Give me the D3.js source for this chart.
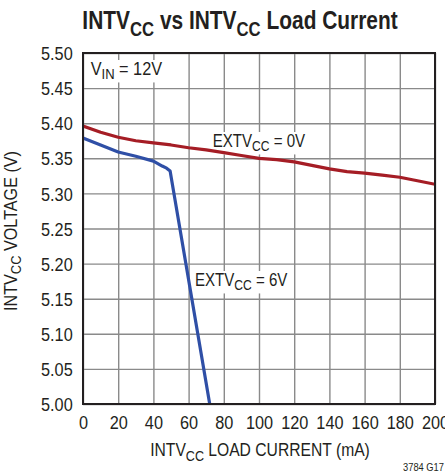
<!DOCTYPE html>
<html>
<head>
<meta charset="utf-8">
<script src="https://cdn.jsdelivr.net/npm/d3@7"></script>
<style>
  body { margin: 0; background: #fff; }
  text { font-family: "Liberation Sans", Arial, sans-serif; fill: #231f20; }
  .grid line { stroke: #8a8a8a; stroke-width: 1.4px; }
  .grid path { display: none; }
</style>
</head>
<body>
<div id="chart-area"></div>
<script>
// chart values
const xTicks = [0, 20, 40, 60, 80, 100, 120, 140, 160, 180, 200]
const yTicks = [5.00, 5.05, 5.10, 5.15, 5.20, 5.25, 5.30, 5.35, 5.40, 5.45, 5.50]

// EXTVcc = 0V (red)
const redCurrent = [0, 10, 20, 30, 40, 50, 60, 70, 80, 90, 100, 110, 120, 130, 140, 150, 160, 170, 180, 190, 200]
const redVoltage = [5.396, 5.387, 5.380, 5.375, 5.372, 5.369, 5.365, 5.362, 5.358, 5.354, 5.350, 5.348, 5.345, 5.340, 5.335, 5.331, 5.329, 5.326, 5.323, 5.318, 5.313]

// EXTVcc = 6V (blue)
const blueCurrent = [0, 10, 20, 30, 40, 45, 47.5, 49.5, 72]
const blueVoltage = [5.379, 5.369, 5.359, 5.353, 5.346, 5.339, 5.336, 5.332, 5.00]

const MARGIN = { LEFT: 83, RIGHT: 10, TOP: 53, BOTTOM: 70 }
const WIDTH = 445 - MARGIN.LEFT - MARGIN.RIGHT   // 352
const HEIGHT = 474 - MARGIN.TOP - MARGIN.BOTTOM  // 351
const NARROW = 0.88  // condensed look for tick labels

const svg = d3.select("#chart-area").append("svg")
  .attr("width", 445)
  .attr("height", 474)

const g = svg.append("g")
  .attr("transform", `translate(${MARGIN.LEFT}, ${MARGIN.TOP})`)

const x = d3.scaleLinear().domain([0, 200]).range([0, WIDTH])
const y = d3.scaleLinear().domain([5.0, 5.5]).range([HEIGHT, 0])

// gridlines
g.append("g")
  .attr("class", "grid")
  .attr("transform", `translate(0, ${HEIGHT})`)
  .call(d3.axisBottom(x).tickValues(xTicks).tickSize(-HEIGHT).tickFormat(""))
g.append("g")
  .attr("class", "grid")
  .call(d3.axisLeft(y).tickValues(yTicks).tickSize(-WIDTH).tickFormat(""))

const bgLayer = g.append("g")

// tick labels
const xAxis = g.append("g")
  .attr("transform", `translate(0, ${HEIGHT})`)
  .call(d3.axisBottom(x).tickValues(xTicks).tickSize(0).tickPadding(0).tickFormat(d3.format("d")))
xAxis.select(".domain").remove()
xAxis.selectAll("text")
  .attr("y", 25.5).attr("dy", 0)
  .attr("transform", `scale(${NARROW},1)`)
  .attr("font-size", "18.5px")
  .attr("fill", "#231f20")

const yAxis = g.append("g")
  .call(d3.axisLeft(y).tickValues(yTicks).tickSize(0).tickFormat(d3.format(".2f")))
yAxis.select(".domain").remove()
yAxis.selectAll("text")
  .attr("x", -10.3 / NARROW)
  .attr("dy", "0.36em")
  .attr("transform", `scale(${NARROW},1)`)
  .attr("font-size", "18.5px")
  .attr("fill", "#231f20")

// label with sub-script, squeezed to the width seen in the reference
function label(parent, px, py, parts, size, anchor, width, bg) {
  const t = parent.append("text")
    .attr("x", px).attr("y", py)
    .attr("font-size", size + "px")
    .attr("text-anchor", anchor || "start")
  parts.forEach(p => {
    if (p.sub) {
      t.append("tspan").attr("font-size", (size * 0.8) + "px").attr("dy", size * 0.24).text(p.sub)
    } else {
      t.append("tspan").attr("dy", p.after ? -size * 0.24 : 0).text(p.text)
    }
  })
  const b = t.node().getBBox()
  const s = width / b.width
  const tf = `translate(${px},0) scale(${s},1) translate(${-px},0)`
  t.attr("transform", tf)
  if (bg) {
    bg.append("rect")
      .attr("transform", tf)
      .attr("x", b.x - 3).attr("y", b.y + 2)
      .attr("width", b.width + 6).attr("height", b.height - 2)
      .attr("fill", "#fff")
  }
  return t
}

// lines
const line = d3.line()
  .x(d => x(d[0]))
  .y(d => y(d[1]))

const redData = redCurrent.map((c, i) => [c, redVoltage[i]])
const blueData = blueCurrent.map((c, i) => [c, blueVoltage[i]])

const plot = g.append("g")
plot.append("clipPath").attr("id", "clip")
  .append("rect").attr("width", WIDTH).attr("height", HEIGHT)

plot.append("path")
  .attr("clip-path", "url(#clip)")
  .attr("fill", "none")
  .attr("stroke", "#a51d25")
  .attr("stroke-width", 3.2)
  .attr("stroke-linejoin", "round")
  .attr("d", line(redData))

plot.append("path")
  .attr("clip-path", "url(#clip)")
  .attr("fill", "none")
  .attr("stroke", "#2f4fa6")
  .attr("stroke-width", 3.2)
  .attr("stroke-linejoin", "round")
  .attr("d", line(blueData))

// frame
g.append("rect")
  .attr("width", WIDTH).attr("height", HEIGHT)
  .attr("fill", "none")
  .attr("stroke", "#231f20")
  .attr("stroke-width", 2)

// annotations inside the plot
label(g, 7.7, 22, [{ text: "V" }, { sub: "IN" }, { text: " = 12V", after: true }], 18.5, "start", 72, bgLayer)
label(g, 129.7, 94, [{ text: "EXTV" }, { sub: "CC" }, { text: " = 0V", after: true }], 18.5, "start", 93, bgLayer)
label(g, 112, 233, [{ text: "EXTV" }, { sub: "CC" }, { text: " = 6V", after: true }], 18.5, "start", 93, bgLayer)

// title
label(svg, 240, 29.5, [{ text: "INTV" }, { sub: "CC" }, { text: " vs INTV", after: true }, { sub: "CC" }, { text: " Load Current", after: true }], 25.5, "middle", 304)
  .attr("font-weight", "bold")

// axis titles
label(svg, 260, 456.5, [{ text: "INTV" }, { sub: "CC" }, { text: " LOAD CURRENT (mA)", after: true }], 18.5, "middle", 220)

label(svg.append("g").attr("transform", `translate(16.5, 231) rotate(-90)`),
  0, 0, [{ text: "INTV" }, { sub: "CC" }, { text: " VOLTAGE (V)", after: true }], 18.5, "middle", 160)

label(svg, 444, 471.5, [{ text: "3784 G17" }], 11, "end", 41)
</script>
</body>
</html>
